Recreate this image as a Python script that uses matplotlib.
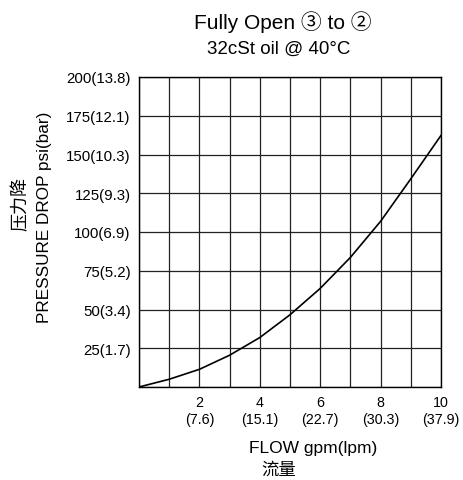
import matplotlib
matplotlib.use("Agg")
import matplotlib.pyplot as plt

# flow (gpm) vs pressure drop (psi)
flow_gpm = [0, 1, 2, 3, 4, 5, 6, 7, 8, 9, 10]
drop_psi = [0, 5, 11.4, 20.5, 31.9, 46.6, 63.6, 83.6, 106.9, 134.3, 162.3]

y_ticks = [25, 50, 75, 100, 125, 150, 175, 200]
y_labels = ["25(1.7)", "50(3.4)", "75(5.2)", "100(6.9)", "125(9.3)",
            "150(10.3)", "175(12.1)", "200(13.8)"]
x_ticks = [2, 4, 6, 8, 10]
x_labels = ["2\n(7.6)", "4\n(15.1)", "6\n(22.7)", "8\n(30.3)", "10\n(37.9)"]

FONT = ["Liberation Sans", "Noto Sans CJK SC", "DejaVu Sans"]
plt.rcParams["font.family"] = FONT

W, H = 463, 481
fig = plt.figure(figsize=(W / 100, H / 100), dpi=100)
ax = fig.add_axes([139 / W, 1 - 388 / H, 302 / W, 310 / H])

ax.plot(flow_gpm, drop_psi, color="black", lw=1.2)
ax.set_xlim(0, 10)
ax.set_ylim(0, 200)

ax.set_xticks(range(0, 11))
ax.set_xticklabels([""] * 11)
for x, lab in zip(x_ticks, x_labels):
    ax.text(x, -5, lab, ha="center", va="top", fontsize=10.3, linespacing=1.3)
ax.set_yticks([0] + y_ticks)
ax.set_yticklabels([""] + y_labels, fontsize=10.8)
ax.tick_params(length=0, pad=6)
ax.grid(True, color="#222222", lw=0.9)
for s in ax.spines.values():
    s.set_linewidth(1.0)

fig.text(283 / W, 1 - 22 / H, "Fully Open ③ to ②", ha="center", va="center", fontsize=15)
fig.text(279 / W, 1 - 49 / H, "32cSt oil @ 40°C", ha="center", va="center", fontsize=13.5)
fig.text(313 / W, 1 - 448 / H, "FLOW gpm(lpm)", ha="center", va="center", fontsize=12.5)
fig.text(279 / W, 1 - 470 / H, "流量", ha="center", va="center", fontsize=12.5)
fig.text(45 / W, 1 - 217 / H, "PRESSURE DROP psi(bar)", ha="center", va="center",
         rotation=90, fontsize=12.3)
fig.text(21 / W, 1 - 204 / H, "压力降", ha="center", va="center", rotation=90, fontsize=13)

fig.savefig("out.png", dpi=100)
